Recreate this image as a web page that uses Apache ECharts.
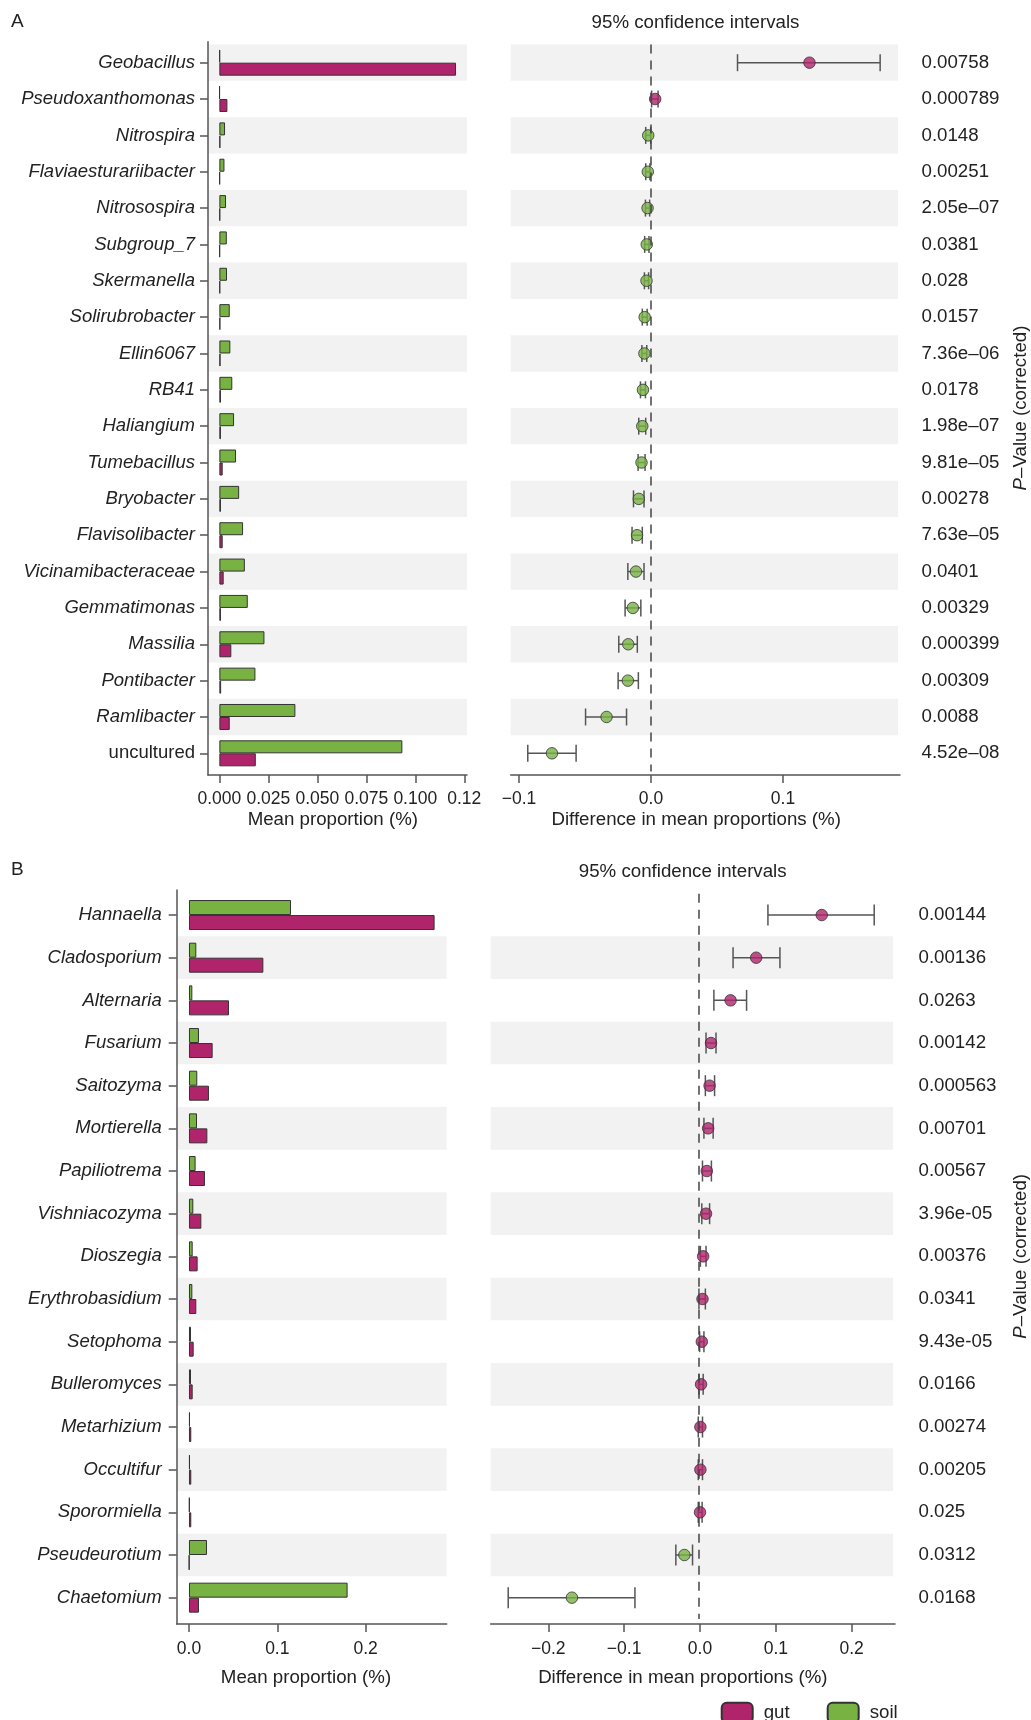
<!DOCTYPE html>
<html>
<head>
<meta charset="utf-8">
<title>Extended error bar plot</title>
<script src="https://cdn.jsdelivr.net/npm/echarts@6/dist/echarts.min.js"></script>
<style>
  html, body { margin: 0; padding: 0; background: #fff; }
  #chart { width: 1031px; height: 1720px; }
</style>
</head>
<body>
<div id="chart"></div>
<script>
// ---- panel A (bacteria) ----
const genusA = ['Geobacillus', 'Pseudoxanthomonas', 'Nitrospira', 'Flaviaesturariibacter', 'Nitrosospira', 'Subgroup_7', 'Skermanella', 'Solirubrobacter', 'Ellin6067', 'RB41', 'Haliangium', 'Tumebacillus', 'Bryobacter', 'Flavisolibacter', 'Vicinamibacteraceae', 'Gemmatimonas', 'Massilia', 'Pontibacter', 'Ramlibacter', 'uncultured']
const gutA = [0.1208, 0.0041, 0.0005, 0.0003, 0.0004, 0.0003, 0.0004, 0.0005, 0.0006, 0.0008, 0.0008, 0.0017, 0.0008, 0.0017, 0.0022, 0.0008, 0.0061, 0.0009, 0.0053, 0.0186]
const soilA = [0.0003, 0.0002, 0.0029, 0.0026, 0.0034, 0.0038, 0.0039, 0.0053, 0.0056, 0.0066, 0.0075, 0.0085, 0.0101, 0.0121, 0.0130, 0.0145, 0.0230, 0.0184, 0.0388, 0.0934]
const diffA = [0.1212, 0.0037, -0.0016, -0.0019, -0.0021, -0.0027, -0.0029, -0.0043, -0.0045, -0.0056, -0.0061, -0.0067, -0.0088, -0.0101, -0.0109, -0.0133, -0.0168, -0.0171, -0.0333, -0.0749]
const lowA = [0.0664, 0.0010, -0.0035, -0.0035, -0.0037, -0.0043, -0.0045, -0.0061, -0.0064, -0.0075, -0.0088, -0.0093, -0.0128, -0.0139, -0.0171, -0.0192, -0.0240, -0.0245, -0.0493, -0.0933]
const highA = [0.1750, 0.0059, 0.0003, -0.0003, -0.0005, -0.0010, -0.0013, -0.0024, -0.0027, -0.0037, -0.0035, -0.0040, -0.0048, -0.0061, -0.0048, -0.0072, -0.0099, -0.0091, -0.0181, -0.0565]
const pA = ['0.00758', '0.000789', '0.0148', '0.00251', '2.05e–07', '0.0381', '0.028', '0.0157', '7.36e–06', '0.0178', '1.98e–07', '9.81e–05', '0.00278', '7.63e–05', '0.0401', '0.00329', '0.000399', '0.00309', '0.0088', '4.52e–08']
const ticksAL = [0, 0.025, 0.05, 0.075, 0.1, 0.125]
const tickLabelsAL = ['0.000', '0.025', '0.050', '0.075', '0.100', '0.12']
const ticksAR = [-0.1, 0, 0.1]
const tickLabelsAR = ['−0.1', '0.0', '0.1']

// ---- panel B (fungi) ----
const genusB = ['Hannaella', 'Cladosporium', 'Alternaria', 'Fusarium', 'Saitozyma', 'Mortierella', 'Papiliotrema', 'Vishniacozyma', 'Dioszegia', 'Erythrobasidium', 'Setophoma', 'Bulleromyces', 'Metarhizium', 'Occultifur', 'Sporormiella', 'Pseudeurotium', 'Chaetomium']
const gutB = [0.2781, 0.0842, 0.0453, 0.0268, 0.0226, 0.0208, 0.0181, 0.0140, 0.0098, 0.0083, 0.0053, 0.0042, 0.0026, 0.0026, 0.0026, 0.0004, 0.0113]
const soilB = [0.1155, 0.0083, 0.0038, 0.0113, 0.0094, 0.0091, 0.0075, 0.0049, 0.0042, 0.0038, 0.0023, 0.0023, 0.0011, 0.0011, 0.0008, 0.0204, 0.1796]
const diffB = [0.1627, 0.0758, 0.0419, 0.0160, 0.0141, 0.0122, 0.0104, 0.0094, 0.0056, 0.0047, 0.0038, 0.0028, 0.0019, 0.0019, 0.0014, -0.0193, -0.1683]
const lowB = [0.0914, 0.0452, 0.0198, 0.0094, 0.0085, 0.0066, 0.0047, 0.0038, 0.0019, 0.0000, 0.0009, 0.0000, -0.0009, -0.0009, -0.0009, -0.0306, -0.2527]
const highB = [0.2322, 0.1073, 0.0631, 0.0226, 0.0207, 0.0188, 0.0165, 0.0141, 0.0094, 0.0085, 0.0066, 0.0056, 0.0047, 0.0047, 0.0042, -0.0085, -0.0848]
const pB = ['0.00144', '0.00136', '0.0263', '0.00142', '0.000563', '0.00701', '0.00567', '3.96e-05', '0.00376', '0.0341', '9.43e-05', '0.0166', '0.00274', '0.00205', '0.025', '0.0312', '0.0168']
const ticksBL = [0, 0.1, 0.2]
const tickLabelsBL = ['0.0', '0.1', '0.2']
const ticksBR = [-0.2, -0.1, 0, 0.1, 0.2]
const tickLabelsBR = ['−0.2', '−0.1', '0.0', '0.1', '0.2']

const C_GUT = '#B0246C'
const C_SOIL = '#78B243'
const BAND = '#F2F2F2'
const INK = '#222'
const AXIS = '#555'
const FONT = '"Liberation Sans", Arial, Helvetica, sans-serif'
const FS = 18.7

// grids: frame (axis lines) + rows (bands, bars, points) for each of the 4 plots
const grid = [
  { left: 208, width: 259, top: 41.7, height: 733.3 },
  { left: 208, width: 259, top: 44.5, height: 727 },
  { left: 510.7, width: 389.3, top: 41.7, height: 733.3 },
  { left: 510.7, width: 389.3, top: 44.5, height: 727 },
  { left: 176.7, width: 270, top: 890, height: 734 },
  { left: 176.7, width: 270, top: 893.7, height: 725.3 },
  { left: 490.7, width: 404.3, top: 890, height: 734 },
  { left: 490.7, width: 404.3, top: 893.7, height: 725.3 }
]

const lookup = (ticks, labels) => (v) => {
  const i = ticks.findIndex(t => Math.abs(t - v) < 1e-9)
  return i < 0 ? '' : labels[i]
}

const frameX = (gridIndex, min, max, ticks, labels, name, margin, nameGap, shift) => ({
  type: 'value', gridIndex, min, max, position: 'bottom',
  axisLine: { show: true, onZero: false, lineStyle: { color: AXIS, width: 1.5 } },
  axisTick: { show: true, length: 8, customValues: ticks, lineStyle: { color: AXIS, width: 1.5 } },
  axisLabel: { customValues: ticks, margin, fontSize: 17.5, color: INK, fontFamily: FONT, formatter: lookup(ticks, labels) },
  splitLine: { show: false },
  name, nameLocation: 'middle', nameGap,
  nameTextStyle: { fontSize: FS, color: INK, fontFamily: FONT, padding: [0, shift * 2, 0, 0] }
})
const rowsX = (gridIndex, min, max) => ({ type: 'value', gridIndex, min, max, show: false })

const frameY = (gridIndex, showLine) => ({
  type: 'value', gridIndex, min: 0, max: 1,
  axisLine: { show: showLine, onZero: false, lineStyle: { color: AXIS, width: 1.5 } },
  axisTick: { show: false }, axisLabel: { show: false }, splitLine: { show: false }
})

const bandStyle = (firstGray) => ({
  show: true, interval: 0,
  areaStyle: { color: firstGray ? [BAND, 'rgba(255,255,255,0)'] : ['rgba(255,255,255,0)', BAND] }
})

const genusY = (gridIndex, data, margin, firstGray) => ({
  type: 'category', gridIndex, data, inverse: true,
  axisLine: { show: false, onZero: false },
  axisTick: { show: true, alignWithLabel: true, interval: 0, length: 8, lineStyle: { color: AXIS, width: 1.5 } },
  axisLabel: {
    interval: 0, margin, fontSize: 18.5, color: INK, fontFamily: FONT,
    formatter: v => v === 'uncultured' ? v : '{i|' + v + '}',
    rich: { i: { fontStyle: 'italic', fontSize: 18.5, color: INK, fontFamily: FONT } }
  },
  splitArea: bandStyle(firstGray),
  splitLine: { show: false }
})

const pValueY = (gridIndex, data, pvals, margin, nameGap, firstGray) => ({
  type: 'category', gridIndex, data, inverse: true, position: 'right',
  axisLine: { show: false, onZero: false },
  axisTick: { show: false },
  axisLabel: { interval: 0, margin, fontSize: FS, color: INK, fontFamily: FONT, formatter: (v, i) => pvals[i] },
  splitArea: bandStyle(firstGray),
  splitLine: { show: false },
  name: '{i|P}–Value (corrected)', nameLocation: 'middle', nameRotate: 90, nameGap,
  nameTextStyle: {
    fontSize: FS, color: INK, fontFamily: FONT,
    rich: { i: { fontStyle: 'italic', fontSize: FS, color: INK, fontFamily: FONT } }
  }
})

// data item: [low, rowIndex, high]
const errorBar = (capH) => (params, api) => {
  const a = api.coord([api.value(0), api.value(1)])
  const b = api.coord([api.value(2), api.value(1)])
  const style = { stroke: '#555', lineWidth: 1.5 }
  return {
    type: 'group',
    children: [
      { type: 'line', shape: { x1: a[0], y1: a[1], x2: b[0], y2: b[1] }, style },
      { type: 'line', shape: { x1: a[0], y1: a[1] - capH / 2, x2: a[0], y2: a[1] + capH / 2 }, style },
      { type: 'line', shape: { x1: b[0], y1: b[1] - capH / 2, x2: b[0], y2: b[1] + capH / 2 }, style }
    ]
  }
}

const barSeries = (name, axis, data, color, barWidth) => ({
  type: 'bar', name, xAxisIndex: axis, yAxisIndex: axis, data, barWidth, barGap: '0%',
  itemStyle: { color, borderColor: '#333', borderWidth: 1 }
})

const zeroLine = {
  silent: true, symbol: ['none', 'none'], label: { show: false },
  lineStyle: { type: [9, 7], color: '#444', width: 1.5 },
  data: [{ xAxis: 0 }]
}

const ciSeries = (axis, low, high, capH) => ({
  type: 'custom', xAxisIndex: axis, yAxisIndex: axis, silent: true,
  renderItem: errorBar(capH),
  encode: { x: 0, y: 1 },
  data: low.map((lo, i) => [lo, i, high[i]]),
  markLine: zeroLine
})

const dotSeries = (axis, diff) => ({
  type: 'scatter', xAxisIndex: axis, yAxisIndex: axis, z: 3, symbolSize: 11.5,
  data: diff.map((d, i) => [d, i]),
  itemStyle: { color: p => p.value[0] > 0 ? C_GUT : C_SOIL, borderColor: '#333', borderWidth: 1 }
})

const option = {
  animation: false,
  backgroundColor: '#fff',
  textStyle: { fontFamily: FONT },
  graphic: [
    { type: 'text', left: 11, top: 12, style: { text: 'A', fontSize: 19, fill: INK, fontFamily: FONT } },
    { type: 'text', left: 11, top: 860, style: { text: 'B', fontSize: 19, fill: INK, fontFamily: FONT } },
    { type: 'text', x: 695.5, y: 22.7, style: { text: '95% confidence intervals', fontSize: FS, fill: INK, fontFamily: FONT, align: 'center', verticalAlign: 'middle' } },
    { type: 'text', x: 682.7, y: 871.7, style: { text: '95% confidence intervals', fontSize: FS, fill: INK, fontFamily: FONT, align: 'center', verticalAlign: 'middle' } }
  ],
  legend: {
    data: ['gut', 'soil'], left: 720.7, top: 1701.7, padding: 0,
    itemWidth: 31, itemHeight: 20, itemGap: 37,
    selectedMode: false,
    textStyle: { fontSize: FS, color: INK, fontFamily: FONT, padding: [0, 0, 0, 6] }
  },
  grid,
  xAxis: [
    frameX(0, -0.0058, 0.1264, ticksAL, tickLabelsAL, 'Mean proportion (%)', 15.5, 35, 4.7),
    rowsX(1, -0.0058, 0.1264),
    frameX(2, -0.1063, 0.1886, ticksAR, tickLabelsAR, 'Difference in mean proportions (%)', 15.5, 35, 9.2),
    rowsX(3, -0.1063, 0.1886),
    frameX(4, -0.0139, 0.2918, ticksBL, tickLabelsBL, 'Mean proportion (%)', 16, 44, 5.7),
    rowsX(5, -0.0139, 0.2918),
    frameX(6, -0.2759, 0.2571, ticksBR, tickLabelsBR, 'Difference in mean proportions (%)', 16, 44, 10),
    rowsX(7, -0.2759, 0.2571)
  ],
  yAxis: [
    frameY(0, true),
    genusY(1, genusA, 13, true),
    frameY(2, false),
    pValueY(3, genusA, pA, 23.5, 113, true),
    frameY(4, true),
    genusY(5, genusB, 15, false),
    frameY(6, false),
    pValueY(7, genusB, pB, 25.5, 118, false)
  ],
  series: [
    barSeries('soil', 1, soilA, C_SOIL, 13),
    barSeries('gut', 1, gutA, C_GUT, 13),
    ciSeries(3, lowA, highA, 17),
    dotSeries(3, diffA),
    barSeries('soil', 5, soilB, C_SOIL, 15),
    barSeries('gut', 5, gutB, C_GUT, 15),
    ciSeries(7, lowB, highB, 21),
    dotSeries(7, diffB)
  ]
}

const chart = echarts.init(document.getElementById('chart'))
chart.setOption(option)
window.addEventListener('resize', () => chart.resize())
</script>
</body>
</html>
